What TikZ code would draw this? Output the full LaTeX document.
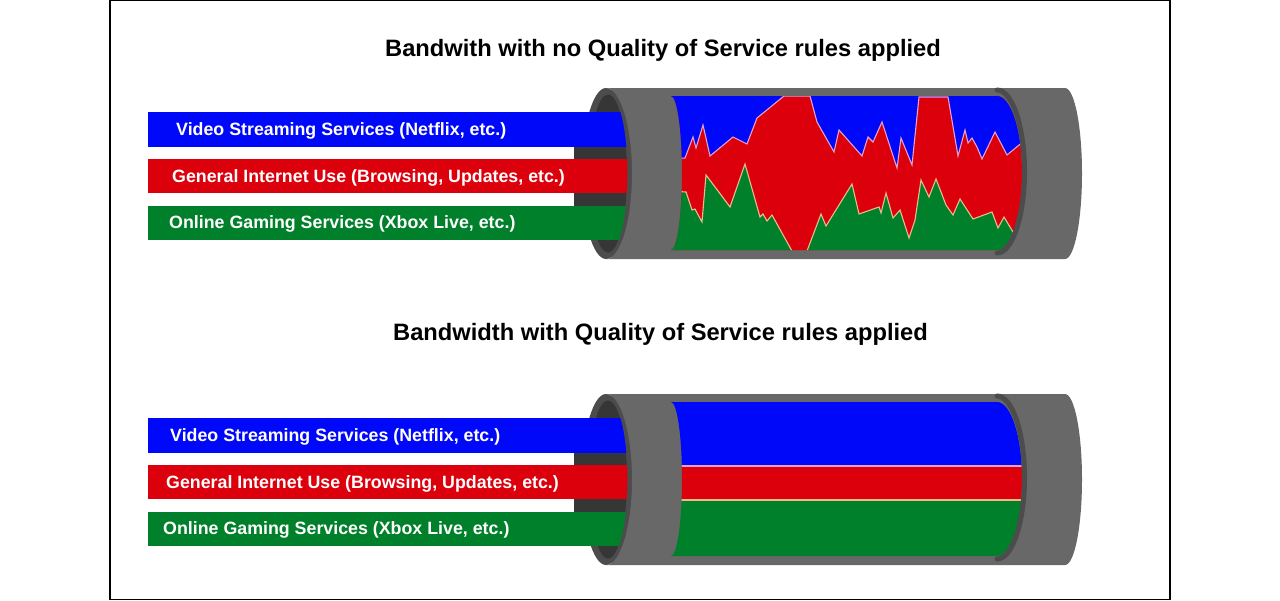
\documentclass[tikz,border=0pt]{standalone}
\usepackage{fontspec}
\setmainfont{Liberation Sans}
\definecolor{qosblue}{HTML}{0008FA}
\definecolor{qosred}{HTML}{DC000C}
\definecolor{qosgreen}{HTML}{00802A}
\definecolor{pipegray}{HTML}{686868}
\definecolor{rimgray}{HTML}{4C4C4C}
\definecolor{holegray}{HTML}{363636}
\definecolor{pinkline}{HTML}{E6A0C8}
\definecolor{peachline}{HTML}{E8BC88}
\tikzset{
    titlelabel/.style={font=\bfseries\fontsize{23.7}{28}\selectfont, text=black, inner sep=0pt},
    barlabel/.style={font=\bfseries\fontsize{17.8}{21}\selectfont, text=white, anchor=west, inner sep=0pt}
}
\newcommand{\qoswindow}{(671,96) arc[start angle=90, end angle=-90, x radius=11pt, y radius=77pt]
    -- (997,250) arc[start angle=-90, end angle=90, x radius=25pt, y radius=77pt] -- cycle}
\begin{document}
\begin{tikzpicture}[x=1pt, y=-1pt]
    \useasboundingbox (0,0) rectangle (1280,600);
    \fill[white] (0,0) rectangle (1280,600);
    \draw[black, line width=1.2pt] (110,.6) rectangle (1170,599.4);
    \node[titlelabel] (titleNoRules) at (663,50.5) {Bandwith with no Quality of Service rules applied};
    \node[titlelabel] (titleRules) at (660.5,334.5) {Bandwidth with Quality of Service rules applied};
    \foreach \dy/\dx/\n in {0/0/a,306/-6/b} {
    \begin{scope}[shift={(0,\dy)}]
        \fill[rimgray] (606,173.5) ellipse [x radius=24pt, y radius=85.5pt];
        \fill[holegray] (608,173.5) ellipse [x radius=19pt, y radius=79pt];
        \fill[holegray] (574,146) rectangle (625,207);
        \fill[qosblue] (148,112) rectangle (640,146.5);
        \fill[qosred] (148,159) rectangle (640,193);
        \fill[qosgreen] (148,206) rectangle (640,240);
        \draw[rimgray, line width=5pt] (610,92) arc[start angle=90, end angle=-90, x radius=20pt, y radius=81.5pt];
        \fill[pipegray] (606,88) arc[start angle=90, end angle=-90, x radius=26pt, y radius=85.5pt]
            -- (1065,259) arc[start angle=-90, end angle=90, x radius=17pt, y radius=85.5pt] -- cycle;
        \node[barlabel] (video\n) at (176+\dx,131) {Video Streaming Services (Netflix, etc.)};
        \node[barlabel] (general\n) at (172+\dx,178) {General Internet Use (Browsing, Updates, etc.)};
        \node[barlabel] (gaming\n) at (169+\dx,224) {Online Gaming Services (Xbox Live, etc.)};
    \end{scope}
    }
    \begin{scope}
        \clip \qoswindow;
        \fill[qosred] (660,90) rectangle (1030,255);
        \fill[qosblue] (670,159) -- (685,158) -- (693,137) -- (696,148) -- (703,125) -- (710,156) -- (733,137) -- (747,144)
            -- (757,118) -- (784,96) -- (810,96) -- (817,122) -- (834,152) -- (839,130) -- (862,156) -- (868,137) -- (873,142)
            -- (882,122) -- (897,168) -- (901,138) -- (912,165) -- (919,97) -- (948,97) -- (958,156) -- (965,130) -- (968,143)
            -- (972,138) -- (977,147) -- (982,159) -- (995,132) -- (1007,155) -- (1030,136) -- (1030,90) -- (670,90) -- cycle;
        \draw[pinkline, line width=1.1pt] (670,159) -- (685,158) -- (693,137) -- (696,148) -- (703,125) -- (710,156) -- (733,137) -- (747,144)
            -- (757,118) -- (784,96) -- (810,96) -- (817,122) -- (834,152) -- (839,130) -- (862,156) -- (868,137) -- (873,142)
            -- (882,122) -- (897,168) -- (901,138) -- (912,165) -- (919,97) -- (948,97) -- (958,156) -- (965,130) -- (968,143)
            -- (972,138) -- (977,147) -- (982,159) -- (995,132) -- (1007,155) -- (1030,136);
        \fill[qosgreen] (670,191) -- (686,192) -- (692,210) -- (695,209) -- (702,222) -- (706,175) -- (730,207) -- (745,164)
            -- (760,217) -- (763,214) -- (767,221) -- (772,215) -- (792,251) -- (807,251) -- (821,214) -- (826,226) -- (852,184)
            -- (859,214) -- (879,207) -- (881,213) -- (886,193) -- (893,218) -- (900,210) -- (909,238) -- (915,220) -- (921,180)
            -- (929,197) -- (936,179) -- (946,205) -- (953,215) -- (960,199) -- (973,219) -- (992,212) -- (998,228) -- (1004,217)
            -- (1013,232) -- (1030,262) -- (670,262) -- cycle;
        \draw[peachline, line width=1.1pt] (670,191) -- (686,192) -- (692,210) -- (695,209) -- (702,222) -- (706,175) -- (730,207) -- (745,164)
            -- (760,217) -- (763,214) -- (767,221) -- (772,215) -- (792,251) -- (807,251) -- (821,214) -- (826,226) -- (852,184)
            -- (859,214) -- (879,207) -- (881,213) -- (886,193) -- (893,218) -- (900,210) -- (909,238) -- (915,220) -- (921,180)
            -- (929,197) -- (936,179) -- (946,205) -- (953,215) -- (960,199) -- (973,219) -- (992,212) -- (998,228) -- (1004,217)
            -- (1013,232) -- (1030,262);
    \end{scope}
    \begin{scope}[shift={(0,306)}]
        \clip \qoswindow;
        \fill[qosblue] (660,90) rectangle (1030,160);
        \fill[qosred] (660,160) rectangle (1030,194);
        \fill[qosgreen] (660,194) rectangle (1030,255);
        \draw[pinkline, line width=1.2pt] (660,160) -- (1030,160);
        \draw[peachline, line width=1.2pt] (660,194) -- (1030,194);
    \end{scope}
    \foreach \dy in {0,306}
        \draw[rimgray, line width=5pt, line cap=round] (997,90+\dy) arc[start angle=90, end angle=-90, x radius=27.5pt, y radius=81.5pt];
\end{tikzpicture}
\end{document}
